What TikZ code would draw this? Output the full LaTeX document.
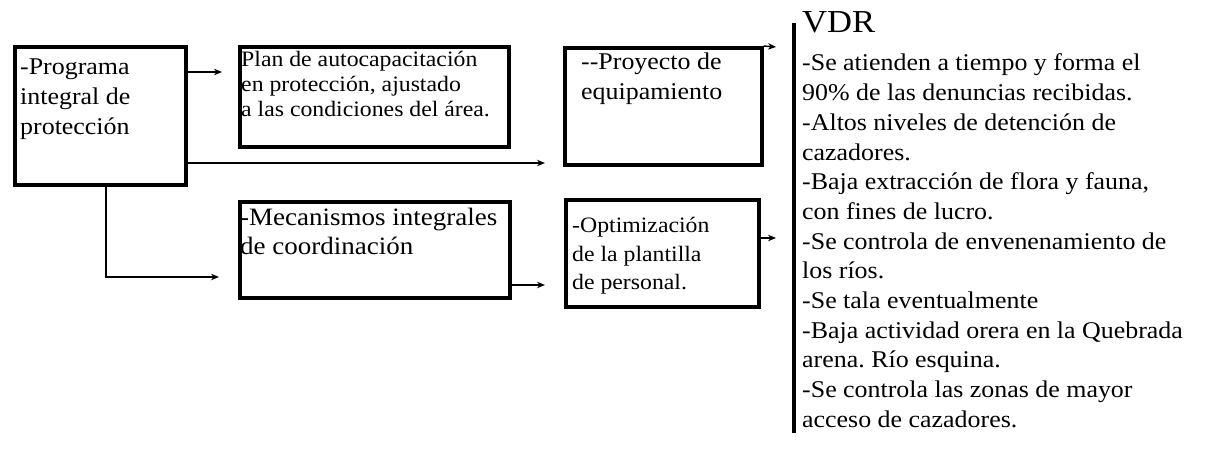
\documentclass[tikz,border=0pt]{standalone}
\usepackage{fontspec}
\setmainfont[FakeStretch=1.08]{Liberation Serif}
\usetikzlibrary{arrows.meta}
\frenchspacing
\tikzset{
  box/.style={draw, line width=3.6pt, rectangle, inner sep=0pt, anchor=north west},
  ln/.style={anchor=base west, inner sep=0pt},
  arr/.style={line width=1.4pt, -{Stealth[length=8pt,width=6.5pt]}},
}
\begin{document}
\begin{tikzpicture}[x=1pt,y=-1pt]
\useasboundingbox[fill=white] (0,0) rectangle (1208,454);
% boxes
\node[box, minimum width=171pt, minimum height=138pt] (A) at (13,45) {};
\node[box, minimum width=269pt, minimum height=100pt] (B) at (238,45) {};
\node[box, minimum width=197pt, minimum height=117pt] (C) at (563,46) {};
\node[box, minimum width=270pt, minimum height=96pt] (D) at (238,200) {};
\node[box, minimum width=193pt, minimum height=107pt] (E) at (564,198) {};
% box texts
\begin{scope}[every node/.append style={ln, font=\fontsize{24}{28}\selectfont}]
\node (a1) at (20,75) {-Programa};
\node (a2) at (20,105) {integral de};
\node (a3) at (20,135) {protección};
\node (c1) at (581,70) {-{}-Proyecto de};
\node (c2) at (581,100) {equipamiento};
\end{scope}
\begin{scope}[every node/.append style={ln, font=\fontsize{22}{25}\selectfont}]
\node (b1) at (241,67) {Plan de autocapacitación};
\node (b2) at (241,92) {en protección, ajustado};
\node (b3) at (241,117) {a las condiciones del área.};
\end{scope}
\begin{scope}[every node/.append style={ln, font=\fontsize{25}{29}\selectfont}]
\node (d1) at (240,226) {-Mecanismos integrales};
\node (d2) at (240,255) {de coordinación};
\end{scope}
\begin{scope}[every node/.append style={ln, font=\fontsize{22}{28}\selectfont}]
\node (e1) at (572,233) {-Optimización};
\node (e2) at (572,262) {de la plantilla};
\node (e3) at (572,290) {de personal.};
\end{scope}
% connectors
\coordinate (ab) at (0,72);
\draw[arr, shorten >=16pt] (A.east |- ab) -- (B.west |- ab);
\coordinate (ac) at (0,163);
\draw[arr, shorten >=18pt] (A.east |- ac) -- (C.west |- ac);
\coordinate (adx) at (106,0);
\coordinate (ady) at (0,277);
\draw[arr, shorten >=19pt] (A.south -| adx) -- (adx |- ady) -- (D.west |- ady);
\coordinate (de) at (0,285);
\draw[arr, shorten >=19pt] (D.east |- de) -- (E.west |- de);
\coordinate (cout) at (776,47);
\draw[arr] (C.north east) -- (cout);
\coordinate (eout) at (776,238);
\draw[arr] (E.east |- eout) -- (eout);
% bar
\coordinate (bt) at (794,23);
\coordinate (bb) at (794,433);
\draw[line width=4pt] (bt) -- (bb);
% right column
\node[ln, font=\fontsize{32}{36}\selectfont] (vdr) at (802,33) {VDR};
\begin{scope}[every node/.append style={ln, font=\fontsize{24}{29}\selectfont}]
\node (v1) at (802,71) {-Se atienden a tiempo y forma el};
\node (v2) at (802,100.7) {90\% de las denuncias recibidas.};
\node (v3) at (802,130.4) {-Altos niveles de detención de};
\node (v4) at (802,160.1) {cazadores.};
\node (v5) at (802,189.8) {-Baja extracción de flora y fauna,};
\node (v6) at (802,219.5) {con fines de lucro.};
\node (v7) at (802,249.2) {-Se controla de envenenamiento de};
\node (v8) at (802,278.9) {los ríos.};
\node (v9) at (802,308.6) {-Se tala eventualmente};
\node (v10) at (802,338.3) {-Baja actividad orera en la Quebrada};
\node (v11) at (802,368) {arena. Río esquina.};
\node (v12) at (802,397.7) {-Se controla las zonas de mayor};
\node (v13) at (802,427.4) {acceso de cazadores.};
\end{scope}
\end{tikzpicture}
\end{document}
